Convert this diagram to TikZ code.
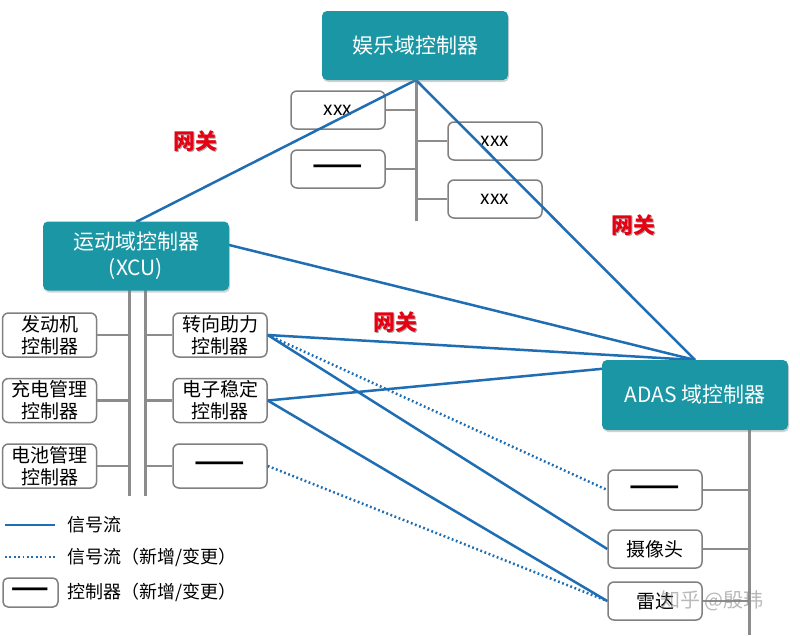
\documentclass[tikz,border=0pt]{standalone}
\usepackage{fontspec}
\setmainfont{Noto Sans CJK SC}
\usetikzlibrary{shadows}
\definecolor{tealbox}{HTML}{1A96A4}
\definecolor{sig}{HTML}{1F6DB3}
\definecolor{boxgray}{HTML}{808080}
\definecolor{trunkgray}{HTML}{8C8C8C}
\definecolor{gwred}{HTML}{E60012}
\newcommand{\longdash}{\scalebox{1.55}[1.3]{\bfseries ——}}
\begin{document}
\begin{tikzpicture}[x=1pt,y=-1pt,
  dombox/.style={fill=tealbox, rounded corners=5pt, text=white,
    font=\fontsize{21}{26}\selectfont, minimum width=186pt, minimum height=69pt,
    inner sep=0pt, align=center,
    drop shadow={opacity=0.35,shadow xshift=1pt,shadow yshift=-2pt}},
  ctrl/.style={draw=boxgray, line width=1.5pt, fill=white, rounded corners=6pt,
    minimum width=94pt, minimum height=44pt, inner sep=0pt, align=center,
    font=\fontsize{19}{22}\selectfont},
  ctrlsm/.style={ctrl, minimum height=38pt},
  trunk/.style={draw=trunkgray, line width=3pt},
  branch/.style={draw=trunkgray, line width=2.5pt},
  sigline/.style={draw=sig, line width=2.5pt},
  sigdot/.style={draw=sig, line width=2.5pt, dash pattern=on 1.8pt off 2.6pt},
  gwlabel/.style={text=gwred, font=\fontsize{22}{26}\selectfont\bfseries, inner sep=0pt},
  gwshadow/.style={text=black!35, font=\fontsize{22}{26}\selectfont\bfseries, inner sep=0pt},
  legtext/.style={anchor=west, font=\fontsize{18}{22}\selectfont, inner sep=0pt}
]
\useasboundingbox (0,0) rectangle (800,635);
\fill[white] (0,0) rectangle (800,635);

% entertainment sub-controllers
\node[ctrlsm] (e1) at (338,110) {xxx};
\node[ctrlsm] (e2) at (338,169) {\longdash};
\node[ctrlsm] (e3) at (495,141) {xxx};
\node[ctrlsm] (e4) at (495,199) {xxx};
\coordinate (etop) at (416,80);
\coordinate (ebot) at (416,221);
\draw[trunk] (etop) -- (ebot);
\draw[branch] (e1.east) -- (e1.east -| etop);
\draw[branch] (e2.east) -- (e2.east -| etop);
\draw[branch] (e3.west) -- (e3.west -| etop);
\draw[branch] (e4.west) -- (e4.west -| etop);

% motion sub-controllers
\node[ctrl] (m1) at (49.5,335) {发动机\\控制器};
\node[ctrl] (m2) at (49.5,400.5) {充电管理\\控制器};
\node[ctrl] (m3) at (49.5,466) {电池管理\\控制器};
\node[ctrl] (m4) at (220,335) {转向助力\\控制器};
\node[ctrl] (m5) at (220,400.5) {电子稳定\\控制器};
\node[ctrl] (m6) at (220,466) {\longdash};
\coordinate (tla) at (129,290);
\coordinate (tlb) at (129,496);
\coordinate (tra) at (145,290);
\coordinate (trb) at (145,496);
\draw[trunk] (tla) -- (tlb);
\draw[trunk] (tra) -- (trb);
\draw[branch] (m1.east) -- (m1.east -| tla);
\draw[branch] (m2.east) -- (m2.east -| tla);
\draw[branch] (m3.east) -- (m3.east -| tla);
\draw[branch] (m4.west) -- (m4.west -| tra);
\draw[branch] (m5.west) -- (m5.west -| tra);
\draw[branch] (m6.west) -- (m6.west -| tra);

% ADAS sub-controllers
\node[ctrl, minimum height=40pt] (a1) at (655,490) {\longdash};
\node[ctrlsm] (a2) at (655,549) {摄像头};
\node[ctrlsm] (a3) at (655,601) {雷达};
\coordinate (atop) at (749,430);
\coordinate (abot) at (749,635);
\draw[trunk] (atop) -- (abot);
\draw[branch] (a1.east) -- (a1.east -| atop);
\draw[branch] (a2.east) -- (a2.east -| atop);
\draw[branch] (a3.east) -- (a3.east -| atop);

% signal lines
\coordinate (entp) at (416,80);
\coordinate (motp) at (136,222);
\coordinate (adap) at (695,360);
\draw[sigline] (entp) -- (motp);
\draw[sigline] (entp) -- (adap);
\draw[sigline] (motp) -- (adap);
\draw[sigline] (m4.east) -- (adap);
\draw[sigline] (m5.east) -- (adap);
\draw[sigline] (m4.east) -- (a2.west);
\draw[sigline] (m5.east) -- (a3.west);
\draw[sigdot] (m4.east) -- (a1.west);
\draw[sigdot] (m6.east) -- (a3.west);

% domain controllers
\node[dombox] (ent) at (415,45.5) {娱乐域控制器};
\node[dombox] (mot) at (136,256) {运动域控制器\\(XCU)};
\node[dombox, minimum height=70pt] (ada) at (695,395) {ADAS 域控制器};

% gateway labels
\node[gwshadow] at (196.5,142.5) {网关};
\node[gwlabel] (g1) at (195,141) {网关};
\node[gwshadow] at (634.5,226.5) {网关};
\node[gwlabel] (g2) at (633,225) {网关};
\node[gwshadow] at (396.5,323.5) {网关};
\node[gwlabel] (g3) at (395,322) {网关};

% legend
\coordinate (l1a) at (5,525);
\coordinate (l1b) at (55,525);
\draw[sigline] (l1a) -- (l1b);
\node[legtext] (lt1) at (67,525) {信号流};
\coordinate (l2a) at (5,557);
\coordinate (l2b) at (55,557);
\draw[sigdot] (l2a) -- (l2b);
\node[legtext] (lt2) at (67,557) {信号流（新增/变更）};
\node[ctrl, minimum width=55pt, minimum height=29pt, rounded corners=5pt] (lb) at (30.5,592.5) {\scalebox{1.15}[1.3]{\bfseries ——}};
\node[legtext] (lt3) at (67,592.5) {控制器（新增/变更）};

% watermark
\node[text=gray, opacity=0.55, font=\fontsize{20}{24}\selectfont, inner sep=0pt] (wm) at (712,601) {知乎 @殷玮};
\end{tikzpicture}
\end{document}
